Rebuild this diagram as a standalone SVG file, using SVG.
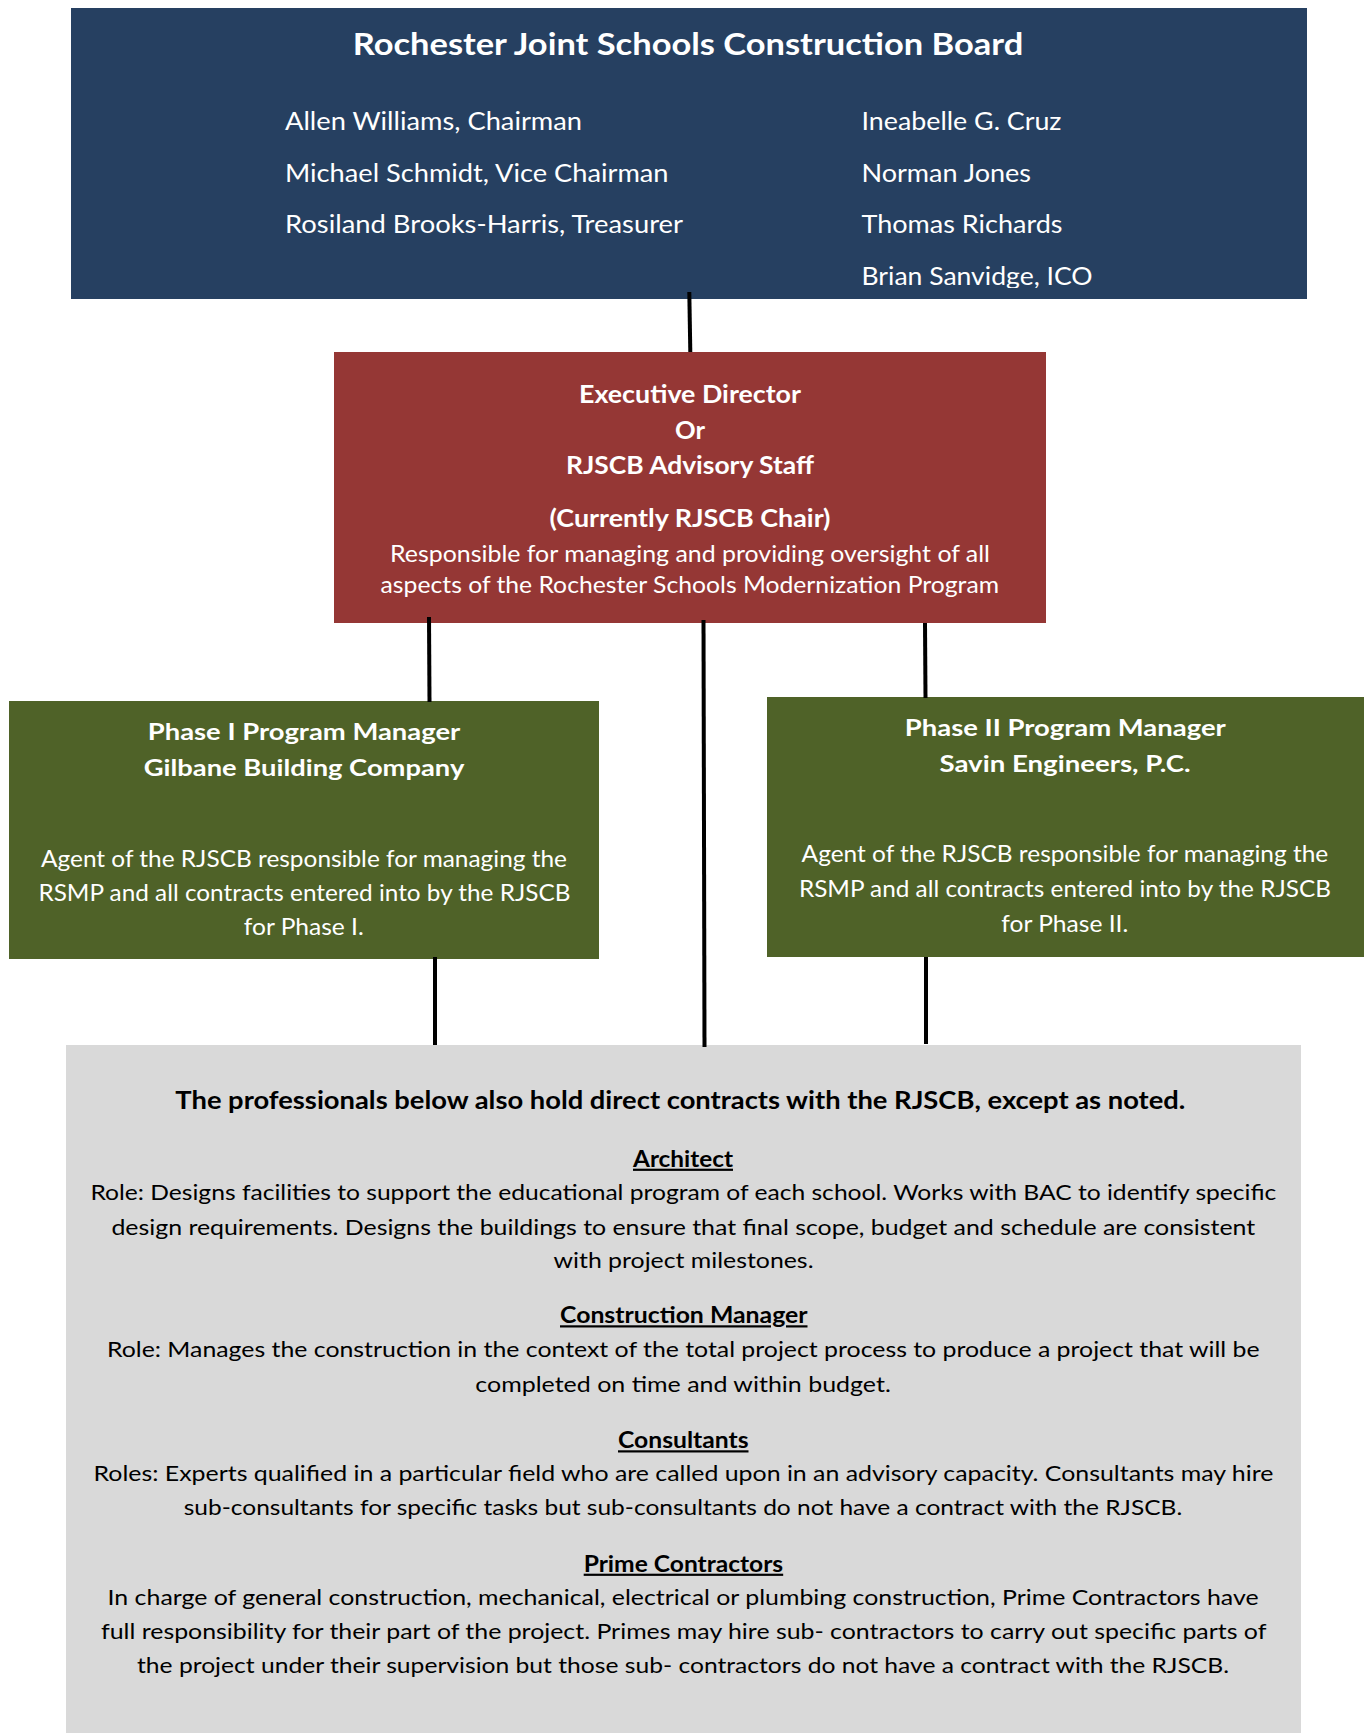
<svg xmlns="http://www.w3.org/2000/svg" width="1367" height="1733" viewBox="0 0 1367 1733">
<style>
text{font-family:Lato,"Liberation Sans",sans-serif;}
.w{fill:#ffffff;}
.k{fill:#000000;}
.b{font-weight:bold;}
.u{text-decoration:underline;}
.conn{stroke:#000000;stroke-width:4;fill:none;}
</style>
<defs>
<clipPath id="navyClip"><rect x="71" y="8" width="1236" height="280"/></clipPath>
</defs>
<rect x="0" y="0" width="1367" height="1733" fill="#ffffff"/>

<g id="board">
<rect x="71" y="8" width="1236" height="291" fill="#264061"/>
<g clip-path="url(#navyClip)">
<text class="w b" x="352.7" y="55" font-size="31" textLength="670.5" lengthAdjust="spacingAndGlyphs">Rochester Joint Schools Construction Board</text>
<g font-size="25.5" class="w">
<text class="w" x="285" y="130" textLength="297" lengthAdjust="spacingAndGlyphs">Allen Williams, Chairman</text>
<text class="w" x="285" y="182" textLength="383.5" lengthAdjust="spacingAndGlyphs">Michael Schmidt, Vice Chairman</text>
<text class="w" x="285" y="233" textLength="398" lengthAdjust="spacingAndGlyphs">Rosiland Brooks-Harris, Treasurer</text>
<text class="w" x="861.5" y="130" textLength="200" lengthAdjust="spacingAndGlyphs">Ineabelle G. Cruz</text>
<text class="w" x="861.5" y="182" textLength="169.5" lengthAdjust="spacingAndGlyphs">Norman Jones</text>
<text class="w" x="861.5" y="233" textLength="201" lengthAdjust="spacingAndGlyphs">Thomas Richards</text>
<text class="w" x="861.5" y="285" textLength="231" lengthAdjust="spacingAndGlyphs">Brian Sanvidge, ICO</text>
</g>
</g>
</g>

<g id="executive-director">
<rect x="334" y="352" width="712" height="271" fill="#953735"/>
<g font-size="25.5">
<text class="w b" x="579" y="403.3" textLength="222" lengthAdjust="spacingAndGlyphs">Executive Director</text>
<text class="w b" x="675" y="439.3" textLength="30" lengthAdjust="spacingAndGlyphs">Or</text>
<text class="w b" x="566" y="474.3" textLength="248" lengthAdjust="spacingAndGlyphs">RJSCB Advisory Staff</text>
<text class="w b" x="549.5" y="526.7" textLength="281" lengthAdjust="spacingAndGlyphs">(Currently RJSCB Chair)</text>
</g>
<g font-size="24">
<text class="w" x="390" y="561.7" textLength="600" lengthAdjust="spacingAndGlyphs">Responsible for managing and providing oversight of all</text>
<text class="w" x="380.6" y="593.3" textLength="618.4" lengthAdjust="spacingAndGlyphs">aspects of the Rochester Schools Modernization Program</text>
</g>
</g>

<g id="phase1-manager">
<rect x="9" y="701" width="590" height="258" fill="#4F6228"/>
<g font-size="23.3">
<text class="w b" x="147.8" y="740" textLength="312.5" lengthAdjust="spacingAndGlyphs">Phase I Program Manager</text>
<text class="w b" x="143.8" y="775.7" textLength="320.5" lengthAdjust="spacingAndGlyphs">Gilbane Building Company</text>
</g>
<g font-size="22.3">
<text class="w" x="41" y="866.7" textLength="526" lengthAdjust="spacingAndGlyphs">Agent of the RJSCB responsible for managing the</text>
<text class="w" x="38.4" y="901" textLength="532" lengthAdjust="spacingAndGlyphs">RSMP and all contracts entered into by the RJSCB</text>
<text class="w" x="243.8" y="935" textLength="120" lengthAdjust="spacingAndGlyphs">for Phase I.</text>
</g>
</g>

<g id="phase2-manager">
<rect x="767" y="697" width="597" height="260" fill="#4F6228"/>
<g font-size="23.3">
<text class="w b" x="904.8" y="736" textLength="321" lengthAdjust="spacingAndGlyphs">Phase II Program Manager</text>
<text class="w b" x="939.5" y="771.7" textLength="251" lengthAdjust="spacingAndGlyphs">Savin Engineers, P.C.</text>
</g>
<g font-size="22.3">
<text class="w" x="801.6" y="861.7" textLength="526.6" lengthAdjust="spacingAndGlyphs">Agent of the RJSCB responsible for managing the</text>
<text class="w" x="798.9" y="896.7" textLength="532" lengthAdjust="spacingAndGlyphs">RSMP and all contracts entered into by the RJSCB</text>
<text class="w" x="1001.3" y="931.7" textLength="127" lengthAdjust="spacingAndGlyphs">for Phase II.</text>
</g>
</g>

<g id="professionals">
<rect x="66" y="1045" width="1235" height="688" fill="#D9D9D9"/>
<text class="k b" x="175.3" y="1109.3" font-size="24.7" textLength="1010" lengthAdjust="spacingAndGlyphs">The professionals below also hold direct contracts with the RJSCB, except as noted.</text>
<g font-size="21.9">
<text class="k b u" x="633" y="1166.7" textLength="100" lengthAdjust="spacingAndGlyphs">Architect</text>
<text class="k" x="90.4" y="1200" textLength="1186" lengthAdjust="spacingAndGlyphs">Role: Designs facilities to support the educational program of each school. Works with BAC to identify specific</text>
<text class="k" x="111.4" y="1235" textLength="1143.8" lengthAdjust="spacingAndGlyphs">design requirements. Designs the buildings to ensure that final scope, budget and schedule are consistent</text>
<text class="k" x="553.5" y="1268.3" textLength="260" lengthAdjust="spacingAndGlyphs">with project milestones.</text>
<text class="k b u" x="560" y="1323.3" textLength="247.5" lengthAdjust="spacingAndGlyphs">Construction Manager</text>
<text class="k" x="107" y="1357.3" textLength="1152.6" lengthAdjust="spacingAndGlyphs">Role: Manages the construction in the context of the total project process to produce a project that will be</text>
<text class="k" x="475.3" y="1391.7" textLength="415.5" lengthAdjust="spacingAndGlyphs">completed on time and within budget.</text>
<text class="k b u" x="618" y="1448.3" textLength="130.5" lengthAdjust="spacingAndGlyphs">Consultants</text>
<text class="k" x="93.6" y="1481" textLength="1179.8" lengthAdjust="spacingAndGlyphs">Roles: Experts qualified in a particular field who are called upon in an advisory capacity. Consultants may hire</text>
<text class="k" x="183.7" y="1515" textLength="998.5" lengthAdjust="spacingAndGlyphs">sub-consultants for specific tasks but sub-consultants do not have a contract with the RJSCB.</text>
<text class="k b u" x="583.7" y="1571.7" textLength="199.5" lengthAdjust="spacingAndGlyphs">Prime Contractors</text>
<text class="k" x="107.6" y="1605" textLength="1151" lengthAdjust="spacingAndGlyphs">In charge of general construction, mechanical, electrical or plumbing construction, Prime Contractors have</text>
<text class="k" x="101" y="1639.3" textLength="1165.4" lengthAdjust="spacingAndGlyphs">full responsibility for their part of the project. Primes may hire sub- contractors to carry out specific parts of</text>
<text class="k" x="137" y="1673.3" textLength="1092" lengthAdjust="spacingAndGlyphs">the project under their supervision but those sub- contractors do not have a contract with the RJSCB.</text>
</g>
</g>

<g id="connectors">
<line class="conn" x1="689.3" y1="292" x2="690.3" y2="352"/>
<line class="conn" x1="429" y1="617" x2="429.5" y2="702"/>
<line class="conn" x1="703.5" y1="620" x2="704.5" y2="1047"/>
<line class="conn" x1="925" y1="623" x2="925.5" y2="698"/>
<line class="conn" x1="435" y1="957" x2="435" y2="1045"/>
<line class="conn" x1="926" y1="957" x2="926" y2="1044"/>
</g>
</svg>
